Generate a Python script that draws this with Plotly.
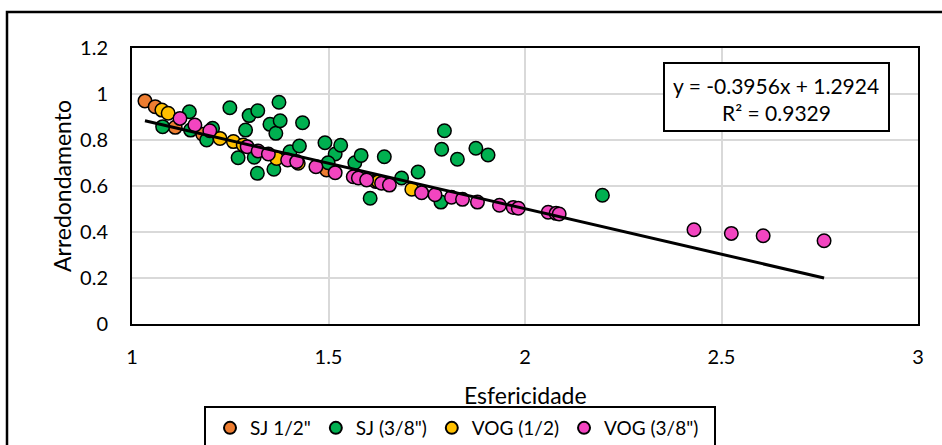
import plotly.graph_objects as go

# Esfericidade (x) and Arredondamento (y) per sample group
sj12_x = [1.033, 1.059, 1.110, 1.180, 1.495, 1.620]
sj12_y = [0.970, 0.945, 0.855, 0.825, 0.670, 0.620]

sj38_x = [1.078, 1.146, 1.149, 1.190, 1.205, 1.249, 1.270, 1.289, 1.298, 1.311,
          1.320, 1.319, 1.351, 1.361, 1.366, 1.374, 1.377, 1.402, 1.426, 1.434,
          1.491, 1.517, 1.531, 1.499, 1.567, 1.583, 1.606, 1.642, 1.686, 1.728,
          1.786, 1.788, 1.795, 1.828, 1.875, 1.906, 2.197]
sj38_y = [0.858, 0.923, 0.843, 0.800, 0.851, 0.940, 0.723, 0.843, 0.906, 0.725,
          0.927, 0.655, 0.868, 0.673, 0.829, 0.964, 0.884, 0.749, 0.774, 0.875,
          0.788, 0.739, 0.777, 0.701, 0.701, 0.733, 0.547, 0.727, 0.635, 0.661,
          0.530, 0.760, 0.840, 0.716, 0.764, 0.735, 0.560]

vog12_x = [1.076, 1.092, 1.224, 1.258, 1.283, 1.368, 1.423, 1.627, 1.712]
vog12_y = [0.930, 0.916, 0.807, 0.793, 0.778, 0.720, 0.699, 0.619, 0.586]

vog38_x = [1.122, 1.160, 1.198, 1.293, 1.321, 1.347, 1.396, 1.419, 1.468, 1.517,
           1.563, 1.576, 1.597, 1.635, 1.655, 1.737, 1.771, 1.813, 1.841, 1.879,
           1.935, 1.970, 1.983, 2.059, 2.079, 2.087, 2.430, 2.525, 2.606, 2.761]
vog38_y = [0.894, 0.865, 0.840, 0.771, 0.752, 0.739, 0.713, 0.706, 0.684, 0.658,
           0.640, 0.635, 0.626, 0.612, 0.604, 0.571, 0.562, 0.551, 0.542, 0.530,
           0.516, 0.507, 0.503, 0.486, 0.481, 0.478, 0.410, 0.394, 0.384, 0.362]

series_names = ['SJ 1/2"', 'SJ (3/8")', 'VOG (1/2)', 'VOG (3/8")']
series_colors = ['#ED7D31', '#00B050', '#FFC000', '#F245C0']

# Linear trend fitted over all samples
slope, intercept, r2 = -0.3956, 1.2924, 0.9329

x_ticks = [1, 1.5, 2, 2.5, 3]
y_ticks = [0, 0.2, 0.4, 0.6, 0.8, 1, 1.2]

FONT = "Lato"
W, H = 942, 445
L, R, T, B = 132, 24, 48, 121
PW, PH = W - L - R, H - T - B


def px_x(p):
    return (p - L) / PW


def px_y(p):
    return (H - B - p) / PH


fig = go.Figure()

for xs, ys, name, col in zip([sj12_x, sj38_x, vog12_x, vog38_x],
                             [sj12_y, sj38_y, vog12_y, vog38_y],
                             series_names, series_colors):
    fig.add_trace(go.Scatter(
        x=xs, y=ys, mode="markers", name=name,
        marker=dict(size=13.5, color=col, line=dict(color="black", width=1.5)),
    ))

all_x = sj12_x + sj38_x + vog12_x + vog38_x
x0, x1 = min(all_x), max(all_x)
fig.add_trace(go.Scatter(
    x=[x0, x1], y=[slope * x0 + intercept, slope * x1 + intercept],
    mode="lines", line=dict(color="black", width=3), showlegend=False,
    hoverinfo="skip",
))

fig.update_xaxes(
    range=[1, 3], tickvals=x_ticks, ticktext=[f"{v:g}" for v in x_ticks],
    showgrid=True, gridcolor="#D9D9D9", gridwidth=1.5, zeroline=False,
    showline=True, linecolor="black", linewidth=2, mirror=True,
    ticks="", ticklabelstandoff=14,
    tickfont=dict(family=FONT, size=20, color="black"),
)
fig.update_yaxes(
    range=[0, 1.2], tickvals=y_ticks, ticktext=[f"{v:g}" for v in y_ticks],
    showgrid=True, gridcolor="#D9D9D9", gridwidth=1.5, zeroline=False,
    showline=True, linecolor="black", linewidth=2, mirror=True,
    ticks="", ticklabelstandoff=18,
    tickfont=dict(family=FONT, size=20, color="black"),
)

shapes = [
    # chart frame
    dict(type="rect", xref="paper", yref="paper",
         x0=px_x(7), x1=px_x(980), y0=px_y(480), y1=px_y(12),
         line=dict(color="black", width=2.5), layer="below"),
    # trendline label frame
    dict(type="rect", xref="paper", yref="paper",
         x0=px_x(664), x1=px_x(889), y0=px_y(131), y1=px_y(63),
         line=dict(color="black", width=2), fillcolor="white"),
    # legend frame
    dict(type="rect", xref="paper", yref="paper",
         x0=px_x(205), x1=px_x(715), y0=px_y(480), y1=px_y(407),
         line=dict(color="black", width=2)),
]

annotations = [
    dict(text=f"y = {slope}x + {intercept}", x=px_x(776), y=px_y(85),
         xref="paper", yref="paper", showarrow=False,
         xanchor="center", yanchor="middle",
         font=dict(family=FONT, size=21, color="black")),
    dict(text=f"R² = {r2}", x=px_x(776), y=px_y(112),
         xref="paper", yref="paper", showarrow=False,
         xanchor="center", yanchor="middle",
         font=dict(family=FONT, size=21, color="black")),
    dict(text="Esfericidade", x=px_x(525), y=px_y(395),
         xref="paper", yref="paper", showarrow=False,
         xanchor="center", yanchor="middle",
         font=dict(family=FONT, size=23, color="black")),
    dict(text="Arredondamento", x=px_x(62), y=px_y(186),
         xref="paper", yref="paper", showarrow=False, textangle=-90,
         xanchor="center", yanchor="middle",
         font=dict(family=FONT, size=23, color="black")),
]

fig.update_layout(
    width=W, height=H,
    margin=dict(l=L, r=R, t=T, b=B, autoexpand=False),
    paper_bgcolor="white", plot_bgcolor="white",
    shapes=shapes, annotations=annotations,
    showlegend=True,
    legend=dict(
        orientation="h", x=px_x(210), y=px_y(428), xanchor="left",
        yanchor="middle", font=dict(family=FONT, size=19, color="black"),
        bgcolor="rgba(0,0,0,0)", borderwidth=0, itemsizing="constant",
        tracegroupgap=0,
    ),
)

fig.write_html("out.html")
